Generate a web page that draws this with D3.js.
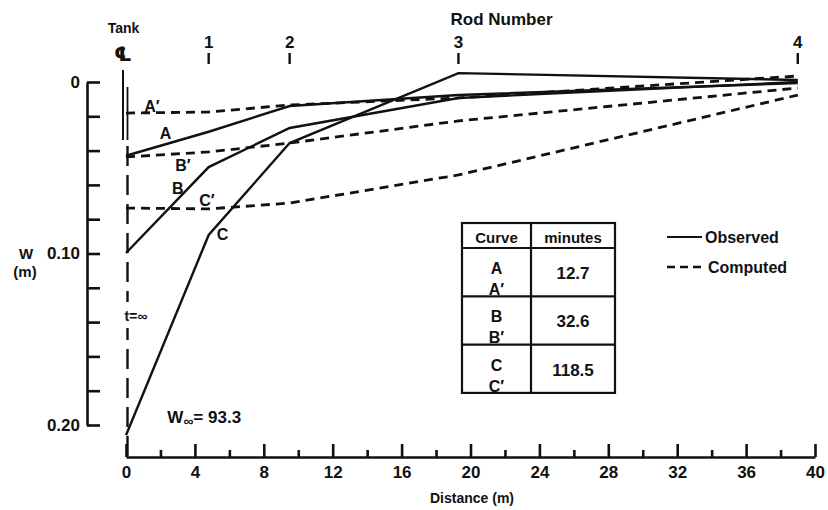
<!DOCTYPE html>
<html>
<head>
<meta charset="utf-8">
<script src="https://cdn.jsdelivr.net/npm/d3@7"></script>
<style>
  body { margin: 0; background: #fff; }
  svg text { font-family: "Liberation Sans", Arial, sans-serif; font-weight: bold; fill: #111; }
</style>
</head>
<body>
<div id="chart"></div>
<script>
// Distances (m) where the curves were read: tank centre, then rods 1-4
const distances = [0, 4.8, 9.5, 19.3, 39.0];

// Observed drawdown w (m)
const curveA = [0.043, 0.029, 0.014, 0.0076, 0.0006];
const curveB = [0.0997, 0.0496, 0.0268, 0.0093, 0.0];
const curveC = [0.206, 0.0892, 0.0356, -0.0052, -0.0012];

// Computed drawdown w (m)
const curveA2 = [0.0181, 0.0175, 0.0134, 0.0093, -0.0035];
const curveB2 = [0.0437, 0.0408, 0.0356, 0.0227, 0.0035];
const curveC2 = [0.0735, 0.074, 0.0706, 0.0542, 0.0076];

// Rods along the top
const rodNumbers = ["1", "2", "3", "4"];
const rodDistances = [4.8, 9.5, 19.3, 39.0];

// Axis ticks
const xTicks = d3.range(0, 41, 4);
const xMinorTicks = d3.range(2, 40, 4);
const yTicks = d3.range(0, 11).map(i => i * 0.02);
const yTickLabels = ["0", "0.10", "0.20"];

// Table of times
const tableCurves = [["A", "A\u2032"], ["B", "B\u2032"], ["C", "C\u2032"]];
const tableMinutes = ["12.7", "32.6", "118.5"];

const width = 828, height = 510;
const ink = "#111";
const svg = d3.select("#chart").append("svg")
  .attr("width", width)
  .attr("height", height);

const x = d3.scaleLinear().domain([0, 40]).range([126, 815]);
const y = d3.scaleLinear().domain([0, 0.2]).range([82, 425]);
const xAxisY = 457;
const yAxisX = 87;

// X axis (major + minor ticks pointing up)
svg.append("g")
  .attr("transform", `translate(0,${xAxisY})`)
  .call(d3.axisBottom(x).tickValues(xTicks).tickSizeInner(-13).tickSizeOuter(0)
    .tickPadding(9).tickFormat(d3.format("d")))
  .call(g => {
    g.select(".domain").attr("stroke", ink).attr("stroke-width", 2.6);
    g.selectAll(".tick line").attr("stroke", ink).attr("stroke-width", 2.6);
    g.selectAll(".tick text").style("font-size", "17px");
  });

svg.append("g")
  .attr("transform", `translate(0,${xAxisY})`)
  .call(d3.axisBottom(x).tickValues(xMinorTicks).tickSizeInner(-7).tickSizeOuter(0).tickFormat(""))
  .call(g => {
    g.select(".domain").remove();
    g.selectAll(".tick line").attr("stroke", ink).attr("stroke-width", 2.6);
  });

svg.append("text")
  .attr("x", 472).attr("y", 503)
  .attr("text-anchor", "middle")
  .style("font-size", "14px")
  .text("Distance  (m)");

// Y axis (ticks pointing right)
svg.append("g")
  .attr("transform", `translate(${yAxisX},0)`)
  .call(d3.axisLeft(y).tickValues(yTicks).tickSizeInner(-13).tickSizeOuter(0)
    .tickPadding(7).tickFormat((d, i) => i % 5 === 0 ? yTickLabels[i / 5] : ""))
  .call(g => {
    g.select(".domain").attr("stroke", ink).attr("stroke-width", 2.6);
    g.selectAll(".tick line").attr("stroke", ink).attr("stroke-width", 2.6);
    g.selectAll(".tick text").style("font-size", "17px");
  });

svg.append("text").attr("x", 26).attr("y", 259).attr("text-anchor", "middle")
  .style("font-size", "15px").text("W");
svg.append("text").attr("x", 25).attr("y", 277).attr("text-anchor", "middle")
  .style("font-size", "15px").text("(m)");

// Tank centre line
const tx = x(0);
svg.append("line").attr("x1", tx - 3).attr("x2", tx - 3).attr("y1", 70).attr("y2", 140)
  .attr("stroke", ink).attr("stroke-width", 2);
svg.append("line").attr("x1", tx + 1.5).attr("x2", tx + 1.5).attr("y1", 87).attr("y2", 140)
  .attr("stroke", ink).attr("stroke-width", 1.8);
svg.append("line").attr("x1", tx + 1.5).attr("x2", tx + 1.5).attr("y1", 146).attr("y2", xAxisY)
  .attr("stroke", ink).attr("stroke-width", 2.4).attr("stroke-dasharray", "20,9");

svg.append("text").attr("x", tx - 2.5).attr("y", 33).attr("text-anchor", "middle")
  .style("font-size", "14px").text("Tank");
svg.append("text").attr("x", tx - 3).attr("y", 61)
  .attr("text-anchor", "middle")
  .style("font-family", "'DejaVu Sans', sans-serif")
  .style("font-size", "20px").text("\u2104");

// Rod numbers along the top
svg.append("text").attr("x", x(21.8)).attr("y", 25).attr("text-anchor", "middle")
  .style("font-size", "17px").text("Rod Number");

const rods = svg.append("g").selectAll("g")
  .data(rodNumbers)
  .join("g")
  .attr("transform", (d, i) => `translate(${x(rodDistances[i])},0)`);
rods.append("text").attr("y", 48).attr("text-anchor", "middle")
  .style("font-size", "17px").text(d => d);
rods.append("line").attr("y1", 53).attr("y2", 64)
  .attr("stroke", ink).attr("stroke-width", 2.4);

// Curves
const line = d3.line()
  .x((d, i) => x(distances[i]))
  .y(d => y(d));

const observed = [curveA, curveB, curveC];
const computed = [curveA2, curveB2, curveC2];

svg.append("g").selectAll("path")
  .data(computed)
  .join("path")
  .attr("d", line)
  .attr("fill", "none")
  .attr("stroke", ink)
  .attr("stroke-width", 2.8)
  .attr("stroke-dasharray", "9,6");

svg.append("g").selectAll("path")
  .data(observed)
  .join("path")
  .attr("d", line)
  .attr("fill", "none")
  .attr("stroke", ink)
  .attr("stroke-width", 2.4);

// Curve labels
const curveLabels = [
  { t: "A\u2032", d: 1.5, w: 0.0140 },
  { t: "A", d: 2.3, w: 0.0297 },
  { t: "B\u2032", d: 3.3, w: 0.0484 },
  { t: "B", d: 3.0, w: 0.0618 },
  { t: "C\u2032", d: 4.7, w: 0.0688 },
  { t: "C", d: 5.6, w: 0.0886 }
];
svg.append("g").selectAll("text")
  .data(curveLabels)
  .join("text")
  .attr("x", d => x(d.d))
  .attr("y", d => y(d.w))
  .attr("dy", "0.36em")
  .attr("text-anchor", "middle")
  .style("font-size", "16px")
  .text(d => d.t);

// t = infinity label, breaking the centre line
svg.append("rect").attr("x", tx - 9).attr("y", 302).attr("width", 38).attr("height", 26).attr("fill", "#fff");
svg.append("text").attr("x", tx + 10).attr("y", 321).attr("text-anchor", "middle")
  .style("font-size", "14px").text("t=\u221e");

const winf = svg.append("text").attr("x", x(2.4)).attr("y", 423).style("font-size", "17px");
winf.append("tspan").text("W");
winf.append("tspan").attr("dy", 3).style("font-size", "14px").text("\u221e");
winf.append("tspan").attr("dy", -3).text("= 93.3");

// Table
const tLeft = 462, tMid = 531, tRight = 615, tTop = 223, tHead = 248, rowH = 48.3;
const table = svg.append("g");
table.append("rect")
  .attr("x", tLeft).attr("y", tTop)
  .attr("width", tRight - tLeft).attr("height", tHead - tTop + rowH * tableMinutes.length)
  .attr("fill", "none").attr("stroke", ink).attr("stroke-width", 2.2);
table.append("line").attr("x1", tMid).attr("x2", tMid).attr("y1", tTop)
  .attr("y2", tHead + rowH * tableMinutes.length).attr("stroke", ink).attr("stroke-width", 2.2);
table.selectAll("line.row")
  .data(tableMinutes)
  .join("line")
  .attr("class", "row")
  .attr("x1", tLeft).attr("x2", tRight)
  .attr("y1", (d, i) => tHead + rowH * i).attr("y2", (d, i) => tHead + rowH * i)
  .attr("stroke", ink).attr("stroke-width", 2.2);
table.append("text").attr("x", (tLeft + tMid) / 2).attr("y", 243).attr("text-anchor", "middle")
  .style("font-size", "15px").text("Curve");
table.append("text").attr("x", (tMid + tRight) / 2).attr("y", 243).attr("text-anchor", "middle")
  .style("font-size", "15px").text("minutes");

const rows = table.selectAll("g.r")
  .data(tableMinutes)
  .join("g")
  .attr("class", "r")
  .attr("transform", (d, i) => `translate(0,${tHead + rowH * i})`);
rows.append("text").attr("x", (tLeft + tMid) / 2).attr("y", 26).attr("text-anchor", "middle")
  .style("font-size", "16px").text((d, i) => tableCurves[i][0]);
rows.append("text").attr("x", (tLeft + tMid) / 2).attr("y", 47).attr("text-anchor", "middle")
  .style("font-size", "16px").text((d, i) => tableCurves[i][1]);
rows.append("text").attr("x", (tMid + tRight) / 2).attr("y", 31).attr("text-anchor", "middle")
  .style("font-size", "17px").text(d => d);

// Legend
const legend = svg.append("g");
legend.append("line").attr("x1", 667).attr("x2", 702).attr("y1", 237).attr("y2", 237)
  .attr("stroke", ink).attr("stroke-width", 2.2);
legend.append("text").attr("x", 705).attr("y", 243).style("font-size", "16px").text("Observed");
legend.append("line").attr("x1", 667).attr("x2", 705).attr("y1", 267).attr("y2", 267)
  .attr("stroke", ink).attr("stroke-width", 2.4).attr("stroke-dasharray", "8,5");
legend.append("text").attr("x", 708).attr("y", 273).style("font-size", "16px").text("Computed");
</script>
</body>
</html>
